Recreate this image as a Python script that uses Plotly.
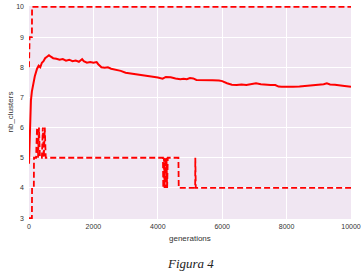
import plotly.graph_objects as go

# mean number of clusters (solid)
mean_gen = [0, 20, 40, 60, 90, 125, 180, 250, 300, 350, 400, 450, 500, 560, 620, 680, 750, 850, 950,
            1050, 1150, 1250, 1350, 1450, 1550, 1650, 1700, 1800, 1900, 2000, 2100, 2150, 2250, 2350,
            2450, 2550, 2700, 2850, 3000, 3150, 3300, 3450, 3600, 3750, 3900, 4000, 4150, 4250, 4400,
            4550, 4700, 4800, 4900, 5000, 5100, 5200, 5350, 5500, 5700, 5900, 6000, 6150, 6300, 6450,
            6600, 6750, 6900, 7050, 7200, 7350, 7500, 7650, 7750, 7850, 8000, 8200, 8400, 8600, 8800,
            9000, 9150, 9250, 9350, 9500, 9650, 9800, 10000]
mean_val = [4.8, 5.8, 6.5, 6.9, 7.2, 7.4, 7.7, 7.95, 8.05, 8.0, 8.15, 8.2, 8.3, 8.35, 8.4, 8.35, 8.3,
            8.28, 8.25, 8.27, 8.22, 8.25, 8.2, 8.22, 8.18, 8.27, 8.2, 8.15, 8.17, 8.15, 8.17, 8.1, 8.0,
            7.98, 8.0, 7.95, 7.92, 7.88, 7.82, 7.8, 7.78, 7.75, 7.72, 7.7, 7.68, 7.66, 7.62, 7.68, 7.67,
            7.63, 7.6, 7.62, 7.6, 7.64, 7.63, 7.58, 7.57, 7.58, 7.57, 7.56, 7.54, 7.47, 7.42, 7.41, 7.43,
            7.41, 7.44, 7.47, 7.44, 7.42, 7.41, 7.41, 7.36, 7.35, 7.36, 7.35, 7.36, 7.38, 7.4, 7.42,
            7.44, 7.47, 7.43, 7.42, 7.41, 7.38, 7.35]

# maximum number of clusters (dashed)
max_gen = [0, 20, 90, 95, 10000]
max_val = [8, 9, 9, 10, 10]

# minimum number of clusters (dashed)
min_gen = [0, 90, 95, 150, 155, 220, 250, 280, 310, 340, 400, 430, 460, 490, 520,
           4160, 4170, 4190, 4210, 4230, 4250, 4270, 4290, 4310, 4640, 4650, 5160, 5165, 5180, 10000]
min_val = [3, 3, 4, 4, 5, 5, 6, 5, 6, 5, 5, 6, 5, 6, 5,
           5, 4, 5, 4, 5, 4, 5, 4, 5, 5, 4, 4, 5, 4, 4]

x_ticks = [0, 2000, 4000, 6000, 8000, 10000]
y_ticks = [3, 4, 5, 6, 7, 8, 9, 10]

RED = "#ff0000"
DASH = "6px,3px"
SANS = "Liberation Sans, Arial, sans-serif"

fig = go.Figure()
fig.add_trace(go.Scatter(x=max_gen, y=max_val, mode="lines", hoverinfo="skip",
                         line=dict(color=RED, width=1.8, dash=DASH)))
fig.add_trace(go.Scatter(x=min_gen, y=min_val, mode="lines", hoverinfo="skip",
                         line=dict(color=RED, width=1.8, dash=DASH)))
fig.add_trace(go.Scatter(x=mean_gen, y=mean_val, mode="lines", hoverinfo="skip",
                         line=dict(color=RED, width=2)))

tickfont = dict(family=SANS, size=7, color="#333333")
fig.update_layout(
    width=364, height=278,
    margin=dict(l=29, r=13, t=6, b=59, autoexpand=False),
    paper_bgcolor="white",
    plot_bgcolor="#f0e6f2",
    showlegend=False,
    xaxis=dict(range=[0, 10000], tickvals=x_ticks, ticktext=[str(t) for t in x_ticks],
               showgrid=True, gridcolor="white", gridwidth=1, zeroline=False, automargin=False,
               showline=False, ticks="", tickfont=tickfont, ticklabelstandoff=2),
    yaxis=dict(range=[2.97, 10.03], tickvals=y_ticks, ticktext=[str(t) for t in y_ticks],
               showgrid=True, gridcolor="white", gridwidth=1, zeroline=False, automargin=False,
               showline=False, ticks="", tickfont=tickfont, ticklabelstandoff=4),
    annotations=[
        dict(text="generations", xref="paper", yref="paper", x=0.5, y=-0.09,
             xanchor="center", yanchor="middle", showarrow=False,
             font=dict(family=SANS, size=8, color="#333333")),
        dict(text="nb_clusters", xref="paper", yref="paper", x=-0.059, y=0.5, textangle=-90,
             xanchor="center", yanchor="middle", showarrow=False,
             font=dict(family=SANS, size=8, color="#333333")),
        dict(text="<i>Figura 4</i>", xref="paper", yref="paper", x=0.5, y=-0.207,
             xanchor="center", yanchor="middle", showarrow=False,
             font=dict(family="Liberation Serif, Times New Roman, serif", size=13, color="#222222")),
    ],
)

fig.write_html("out.html", config={"displayModeBar": False},
               post_script="document.body.style.margin='0';")
